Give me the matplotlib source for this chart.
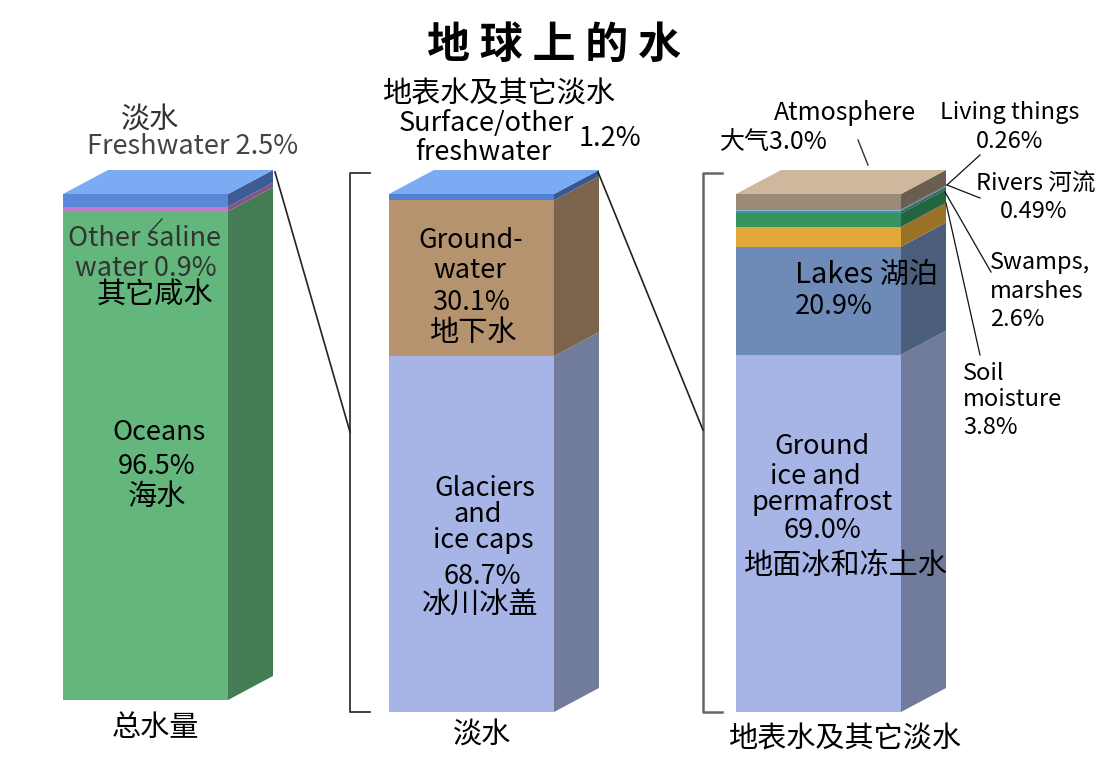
import matplotlib.pyplot as plt
from matplotlib.patches import Polygon
import matplotlib.colors as mcolors

plt.rcParams['font.family'] = ['Noto Sans CJK SC', 'DejaVu Sans']

# data (percent), listed from bottom to top
total_names = ['Oceans', 'Other saline water', 'Freshwater']
total_vals = [96.5, 0.9, 2.5]
fresh_names = ['Glaciers and ice caps', 'Groundwater', 'Surface/other freshwater']
fresh_vals = [68.7, 30.1, 1.2]
surf_names = ['Ground ice and permafrost', 'Lakes', 'Soil moisture', 'Swamps, marshes',
              'Rivers', 'Living things', 'Atmosphere']
surf_vals = [69.0, 20.9, 3.8, 2.6, 0.49, 0.26, 3.0]

total_cols = ['#64b77c', '#c07cc8', '#5b87d8']
fresh_cols = ['#a6b5e6', '#b5936e', '#4f80d2']
surf_cols = ['#a6b5e6', '#6e8bb8', '#e2a83a', '#34935f', '#3f9a88', '#8ab3dc', '#9c8a76']
top_cols = ['#7babf3', '#7babf3', '#cdb89d']

DX, DY = 45, -24
W = 165
LAT = 19.5
CJK = 21


def darker(c, f=0.68):
    r, g, b = mcolors.to_rgb(c)
    return (r * f, g * f, b * f)


def draw_bar(ax, x0, ytop, ybot, vals, cols, topc):
    h = ybot - ytop
    tot = sum(vals)
    y = ybot
    for v, c in zip(vals, cols):
        hh = h * v / tot
        y1 = y - hh
        ax.add_patch(Polygon([(x0, y), (x0 + W, y), (x0 + W, y1), (x0, y1)],
                             closed=True, fc=c, ec='none'))
        ax.add_patch(Polygon([(x0 + W, y), (x0 + W + DX, y + DY), (x0 + W + DX, y1 + DY), (x0 + W, y1)],
                             closed=True, fc=darker(c), ec='none'))
        y = y1
    ax.add_patch(Polygon([(x0, ytop), (x0 + W, ytop), (x0 + W + DX, ytop + DY), (x0 + DX, ytop + DY)],
                         closed=True, fc=topc, ec='none'))


def is_cjk(s):
    return any(ord(ch) > 0x2e80 for ch in s)


def label(ax, items, ha='center', size=None, color='black'):
    for x, y, s in items:
        fsz = size if size else (CJK if is_cjk(s) else LAT)
        ax.text(x, y, s, ha=ha, va='center', fontsize=fsz, color=color)


fig = plt.figure(figsize=(11.11, 7.68), dpi=100)
ax = fig.add_axes([0, 0, 1, 1])
ax.set_xlim(0, 1111)
ax.set_ylim(768, 0)
ax.axis('off')

draw_bar(ax, 63, 194, 700, total_vals, total_cols, top_cols[0])
draw_bar(ax, 389, 194, 712, fresh_vals, fresh_cols, top_cols[1])
draw_bar(ax, 736, 194, 712, surf_vals, surf_cols, top_cols[2])

# brackets and connectors
ax.plot([370, 350, 350, 370], [173, 173, 712, 712], color='#333333', lw=1.3)
ax.plot([722, 703, 703, 722], [173, 173, 712, 712], color='#666666', lw=1.8)
ax.plot([275, 350], [172, 432], color='#222222', lw=1.2)
ax.plot([598, 703], [172, 430], color='#222222', lw=1.2)

# leader lines
ax.plot([858, 868], [140, 165], color='#333333', lw=1)
ax.plot([947, 980], [185, 155], color='#111111', lw=0.9)
ax.plot([947, 980], [185, 198], color='#111111', lw=0.9)
ax.plot([945, 991], [192, 272], color='#111111', lw=0.9)
ax.plot([946, 980], [203, 355], color='#111111', lw=0.9)
ax.plot([150, 162], [232, 219], color='#333333', lw=1)

ax.text(554, 45, '地 球 上 的 水', ha='center', va='center', fontsize=31, fontweight='bold')

# left bar
label(ax, [(150, 120, '淡水')], color='#333333')
label(ax, [(193, 147, 'Freshwater 2.5%')], color='#444444')
label(ax, [(145, 238, 'Other saline'), (146, 268, 'water 0.9%')], color='#333333')
label(ax, [(155, 296, '其它咸水')])
label(ax, [(159, 432, 'Oceans'), (157, 466, '96.5%'), (157, 497, '海水')])
label(ax, [(155, 728, '总水量')])

# middle bar
label(ax, [(499, 95, '地表水及其它淡水'), (486, 124, 'Surface/other'), (483, 152, 'freshwater'),
           (610, 138, '1.2%')])
label(ax, [(471, 240, 'Ground-'), (470, 270, 'water'), (471, 302, '30.1%'), (473, 333, '地下水')])
label(ax, [(485, 488, 'Glaciers'), (478, 515, 'and'), (483, 540, 'ice caps'), (482, 577, '68.7%'),
           (480, 605, '冰川冰盖')])
label(ax, [(482, 735, '淡水')])

# right bar
label(ax, [(845, 113, 'Atmosphere')], size=18)
label(ax, [(774, 142, '大气3.0%')], size=18)
label(ax, [(1010, 113, 'Living things'), (1010, 142, '0.26%'),
           (1036, 184, 'Rivers 河流'), (1034, 212, '0.49%')], size=17)
label(ax, [(990, 262, 'Swamps,'), (990, 291, 'marshes'), (990, 320, '2.6%'),
           (963, 374, 'Soil'), (963, 400, 'moisture'), (963, 427, '3.8%')], ha='left', size=17)
label(ax, [(795, 275, 'Lakes 湖泊'), (795, 306, '20.9%')], ha='left')
label(ax, [(822, 447, 'Ground'), (815, 476, 'ice and'), (822, 502, 'permafrost'), (822, 530, '69.0%'),
           (845, 566, '地面冰和冻土水')])
label(ax, [(845, 740, '地表水及其它淡水')])

plt.savefig('out.png', dpi=100)
